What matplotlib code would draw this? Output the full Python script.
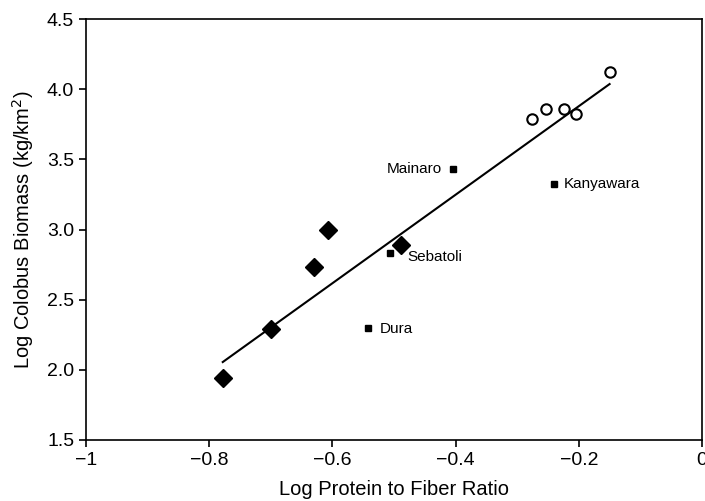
import matplotlib
matplotlib.use('Agg')
import matplotlib.pyplot as plt
import numpy as np

plt.rcParams['font.family'] = ['Liberation Sans', 'DejaVu Sans']

# diamonds
dia_x = [-0.778, -0.700, -0.630, -0.607, -0.488]
dia_y = [1.94, 2.29, 2.73, 2.995, 2.89]
# open circles
circ_x = [-0.276, -0.254, -0.224, -0.205, -0.150]
circ_y = [3.786, 3.861, 3.861, 3.824, 4.123]
# labelled sites (squares)
sites = ['Mainaro', 'Kanyawara', 'Sebatoli', 'Dura']
site_x = [-0.404, -0.241, -0.506, -0.543]
site_y = [3.429, 3.327, 2.833, 2.30]

fig = plt.figure(figsize=(7.05, 5.01), dpi=100)
ax = fig.add_axes([86/705, 1-440/501, 616/705, 421/501])

# regression over all points
all_x = np.array(dia_x + circ_x + site_x)
all_y = np.array(dia_y + circ_y + site_y)
k, b = np.polyfit(all_x, all_y, 1)
xl = np.array([all_x.min(), all_x.max()])
ax.plot(xl, k*xl+b, color='black', lw=1.5, zorder=1)

ax.plot(dia_x, dia_y, 'D', color='black', ms=9, zorder=3)
ax.plot(circ_x, circ_y, 'o', mfc='white', mec='black', mew=1.5, ms=7.5, zorder=3)
ax.plot(site_x, site_y, 's', color='black', ms=5, zorder=3)

offs = {'Mainaro': (-8, 0, 'right'), 'Kanyawara': (7, 0, 'left'),
        'Sebatoli': (12, -3, 'left'), 'Dura': (9, -1, 'left')}
for name, x, y in zip(sites, site_x, site_y):
    dx, dy, ha = offs[name]
    ax.annotate(name, (x, y), xytext=(dx, dy), textcoords='offset points',
                ha=ha, va='center', fontsize=11)

ax.set_xlim(-1, 0)
ax.set_ylim(1.5, 4.5)
ax.set_xticks([-1, -0.8, -0.6, -0.4, -0.2, 0])
ax.set_xticklabels(['\u22121', '\u22120.8', '\u22120.6', '\u22120.4', '\u22120.2', '0'])
ax.set_yticks(np.arange(1.5, 4.51, 0.5))
ax.set_yticklabels(['%.1f' % v for v in np.arange(1.5, 4.51, 0.5)])
ax.tick_params(direction='out', length=5, width=1.2, labelsize=14, top=False, right=False)
for s in ax.spines.values():
    s.set_linewidth(1.2)
ax.set_xlabel('Log Protein to Fiber Ratio', fontsize=14.5, labelpad=8)
ax.set_ylabel('Log Colobus Biomass (kg/km$^2$)', fontsize=14.5, labelpad=8)

fig.savefig('out.png', dpi=100)
